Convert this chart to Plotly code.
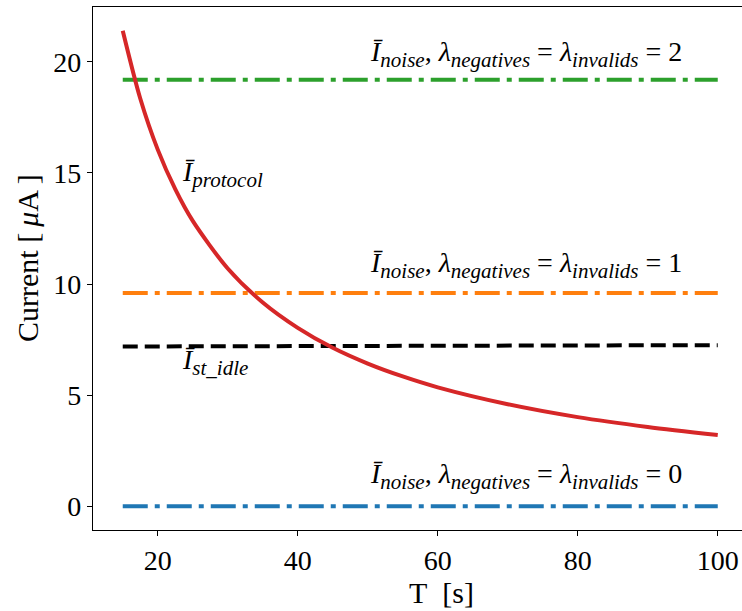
import plotly.graph_objects as go

# ---- data ----
T_protocol = [15, 17.5, 20, 22.5, 25, 30, 35, 40, 45, 50, 55, 60, 70, 80, 90, 100]
I_protocol = [21.4, 18.35, 16.05, 14.27, 12.84, 10.7, 9.17, 8.03, 7.13, 6.42,
              5.84, 5.35, 4.59, 4.01, 3.57, 3.21]

T_span = [15, 100]
I_st_idle = [7.19, 7.25]
I_noise_0 = [0.0, 0.0]
I_noise_1 = [9.6, 9.6]
I_noise_2 = [19.2, 19.2]

x_ticks = [20, 40, 60, 80, 100]
y_ticks = [0, 5, 10, 15, 20]

# label anchor positions (data coords)
noise_label_x = 50
noise_label_y = [1.0, 10.5, 20.0]
noise_label_vals = ["0", "1", "2"]
protocol_label = (23.2, 14.6)
idle_label = (23.2, 6.15)

FONT = "Liberation Serif"
FS = 28
FS_TITLE = 30


def sub(s):
    return "<sub><span style=\"font-size:21px\"><i>" + s + "</i></span></sub>"


fig = go.Figure()

dashdot = "25px,7px,5px,7px"
for vals, col in [(I_noise_2, "#2ca02c"), (I_noise_1, "#ff7f0e"), (I_noise_0, "#1f77b4")]:
    fig.add_trace(go.Scatter(x=T_span, y=vals, mode="lines",
                             line=dict(color=col, width=4, dash=dashdot),
                             showlegend=False, hoverinfo="skip"))

fig.add_trace(go.Scatter(x=T_span, y=I_st_idle, mode="lines",
                         line=dict(color="black", width=4, dash="15px,7px"),
                         showlegend=False, hoverinfo="skip"))

fig.add_trace(go.Scatter(x=T_protocol, y=I_protocol, mode="lines",
                         line=dict(color="#d62728", width=4, shape="spline", smoothing=0.8),
                         showlegend=False, hoverinfo="skip"))

eq = " = "
for y, v in zip(noise_label_y, noise_label_vals):
    txt = ("<i>\u012a</i>" + sub("noise") + ", <i>\u03bb</i>" + sub("negatives")
           + eq + "<i>\u03bb</i>" + sub("invalids") + eq + v)
    fig.add_annotation(x=noise_label_x, y=y, xref="x", yref="y", text=txt,
                       showarrow=False, xanchor="left", yanchor="bottom", yshift=-12,
                       font=dict(family=FONT, size=FS, color="black"))

fig.add_annotation(x=protocol_label[0], y=protocol_label[1], xref="x", yref="y",
                   text="<i>\u012a</i>" + sub("protocol"), showarrow=False,
                   xanchor="left", yanchor="bottom", yshift=-12,
                   font=dict(family=FONT, size=FS, color="black"))
fig.add_annotation(x=idle_label[0], y=idle_label[1], xref="x", yref="y",
                   text="<i>\u012a</i>" + sub("st_idle"), showarrow=False,
                   xanchor="left", yanchor="bottom", yshift=-12,
                   font=dict(family=FONT, size=FS, color="black"))

# axis titles
fig.add_annotation(x=(27 - 93) / 649, y=(530 - 258) / 523, xref="paper", yref="paper",
                   text="Current [\u2009<i>\u03bc</i>A\u2009]", textangle=-90, showarrow=False,
                   xanchor="center", yanchor="middle",
                   font=dict(family=FONT, size=FS_TITLE, color="black"))
fig.add_annotation(x=(441 - 93) / 649, y=(530 - 592) / 523, xref="paper", yref="paper",
                   text="T\u2002[s]", showarrow=False,
                   xanchor="center", yanchor="middle",
                   font=dict(family=FONT, size=FS_TITLE, color="black"))

fig.update_layout(
    width=742, height=611,
    margin=dict(l=93, r=0, t=7, b=81, autoexpand=False),
    paper_bgcolor="white", plot_bgcolor="white",
    font=dict(family=FONT, size=FS, color="black"),
    showlegend=False,
)
fig.update_xaxes(range=[10.75, 10.75 + 649 / 7], tickvals=x_ticks, automargin=False,
                 ticks="outside", ticklen=5, tickwidth=1.2, tickcolor="black",
                 showline=True, linecolor="black", linewidth=1.2, mirror=True,
                 showgrid=False, zeroline=False,
                 tickfont=dict(family=FONT, size=FS, color="black"))
fig.update_yaxes(range=[-1.07, 22.47], tickvals=y_ticks, automargin=False,
                 ticks="outside", ticklen=5, tickwidth=1.2, tickcolor="black",
                 showline=True, linecolor="black", linewidth=1.2, mirror=False,
                 showgrid=False, zeroline=False,
                 tickfont=dict(family=FONT, size=FS, color="black"))

fig.write_html("out.html",
               config={"displayModeBar": False},
               post_script="document.body.style.margin='0px';"
                           "document.body.style.overflow='hidden';")
